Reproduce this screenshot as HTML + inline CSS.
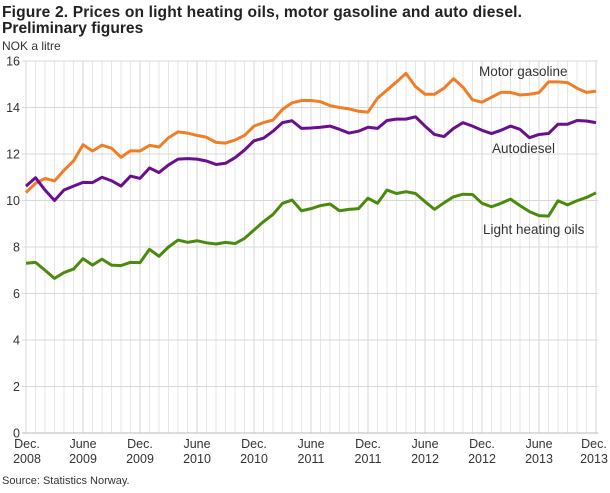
<!DOCTYPE html>
<html><head><meta charset="utf-8"><style>
body{margin:0;background:#fff;width:610px;height:488px;overflow:hidden;font-family:"Liberation Sans",sans-serif;color:#222}
svg text{font-family:"Liberation Sans",sans-serif}
</style></head><body>
<svg id="s" width="610" height="488" xmlns="http://www.w3.org/2000/svg">
<text x="2" y="17" font-size="15.6" font-weight="bold" fill="#222" textLength="520">Figure 2. Prices on light heating oils, motor gasoline and auto diesel.</text>
<text x="2" y="33" font-size="15.6" font-weight="bold" fill="#222">Preliminary figures</text>
<text x="2" y="50" font-size="12" fill="#333">NOK a litre</text>
<g id="grid"></g>
<g id="lines"></g>
<text x="479" y="76" font-size="13.5" fill="#333">Motor gasoline</text>
<text x="492" y="153" font-size="13.5" fill="#333">Autodiesel</text>
<text x="483" y="234" font-size="13.5" fill="#333">Light heating oils</text>
<text x="2" y="484" font-size="11" fill="#333">Source: Statistics Norway.</text>
</svg>
<script>
var NS="http://www.w3.org/2000/svg",s=document.getElementById('grid'),L=document.getElementById('lines');
function X(i){return 26+9.5*i}function Y(v){return 433-23.25*v}
function el(p,t,a,txt){var e=document.createElementNS(NS,t);for(var k in a)e.setAttribute(k,a[k]);if(txt)e.textContent=txt;p.appendChild(e);return e}
for(var i=0;i<=60;i++){el(s,'line',{x1:X(i),x2:X(i),y1:61,y2:433,stroke:(i%6==0)?'#d4d4d4':'#e6e6e6','stroke-width':1})}
for(var v=0;v<=16;v+=2){el(s,'line',{x1:22,x2:598,y1:Y(v),y2:Y(v),stroke:v==0?'#bbb':'#d8d8d8','stroke-width':1});el(s,'text',{x:20,y:Y(v)+4.5,'font-size':12.5,'text-anchor':'end',fill:'#333'},''+v)}
var lab=[['Dec.','2008'],['June','2009'],['Dec.','2009'],['June','2010'],['Dec.','2010'],['June','2011'],['Dec.','2011'],['June','2012'],['Dec.','2012'],['June','2013'],['Dec.','2013']];
lab.forEach(function(l,k){var x=X(k*6);if(k==0)x=27;if(k==10)x=594;el(s,'text',{x:x,y:448,'font-size':12.5,'text-anchor':'middle',fill:'#333'},l[0]);el(s,'text',{x:x,y:463,'font-size':12.5,'text-anchor':'middle',fill:'#333'},l[1])});
var gas=[10.34,10.74,10.95,10.84,11.3,11.7,12.4,12.13,12.38,12.25,11.86,12.14,12.13,12.37,12.3,12.7,12.95,12.9,12.8,12.72,12.5,12.47,12.6,12.8,13.2,13.35,13.46,13.92,14.2,14.3,14.3,14.25,14.08,14.0,13.94,13.84,13.8,14.4,14.75,15.1,15.47,14.9,14.57,14.57,14.83,15.24,14.87,14.33,14.23,14.44,14.65,14.65,14.54,14.57,14.64,15.1,15.1,15.07,14.83,14.65,14.7];
var die=[10.62,10.98,10.45,10.0,10.45,10.62,10.78,10.77,11.0,10.85,10.62,11.05,10.95,11.4,11.2,11.53,11.78,11.8,11.78,11.7,11.55,11.6,11.84,12.17,12.57,12.68,12.98,13.35,13.43,13.1,13.12,13.15,13.2,13.06,12.9,12.98,13.15,13.1,13.44,13.5,13.5,13.6,13.2,12.84,12.75,13.1,13.35,13.2,13.02,12.88,13.02,13.2,13.06,12.7,12.84,12.88,13.28,13.28,13.44,13.42,13.35];
var oil=[7.3,7.34,7.0,6.65,6.9,7.05,7.5,7.22,7.48,7.22,7.2,7.34,7.33,7.9,7.6,8.0,8.3,8.2,8.27,8.18,8.13,8.2,8.15,8.37,8.73,9.09,9.4,9.88,10.02,9.56,9.65,9.78,9.85,9.56,9.62,9.65,10.1,9.88,10.45,10.3,10.38,10.3,9.95,9.62,9.9,10.16,10.27,10.26,9.88,9.73,9.88,10.06,9.78,9.52,9.35,9.33,9.99,9.81,9.99,10.13,10.33];
[[oil,'#4a8a0c'],[gas,'#f07e26'],[die,'#6a0f8e']].forEach(function(d){el(L,'polyline',{points:d[0].map(function(v,i){return X(i)+','+Y(v)}).join(' '),fill:'none',stroke:d[1],'stroke-width':3,'stroke-linejoin':'round'})});
</script>
</body></html>
